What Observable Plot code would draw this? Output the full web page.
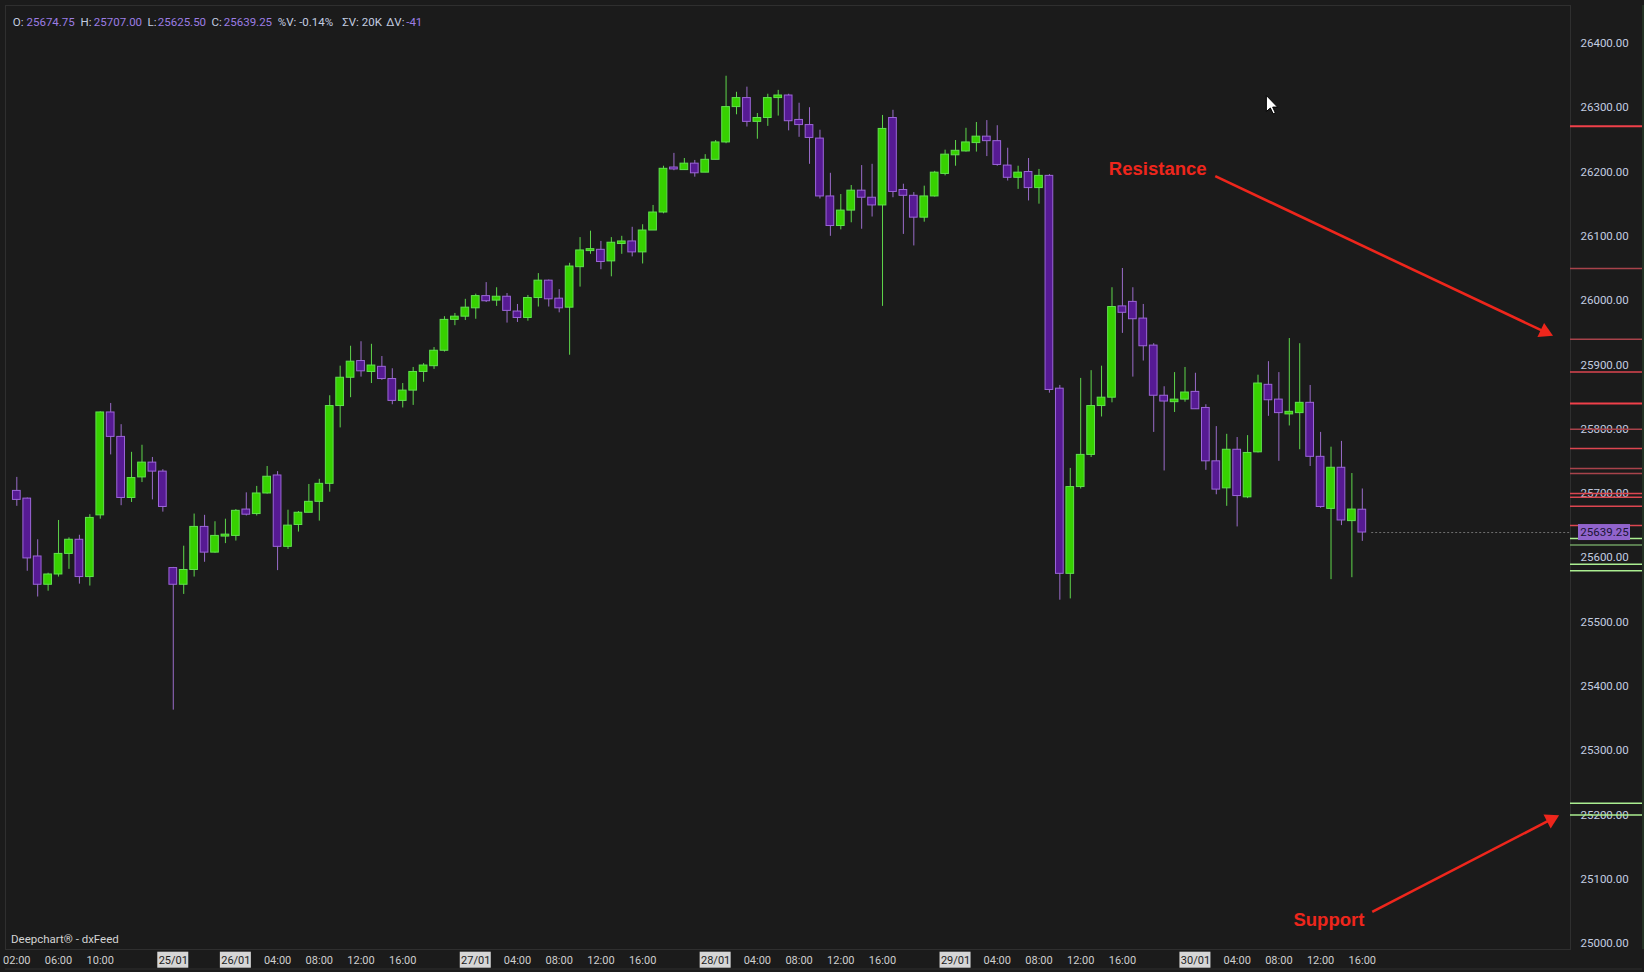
<!DOCTYPE html>
<html>
<head>
<meta charset="utf-8">
<script src="https://cdn.jsdelivr.net/npm/d3@7"></script>
<script src="https://cdn.jsdelivr.net/npm/@observablehq/plot@0.6"></script>
<style>
  html, body { margin: 0; padding: 0; background: #1b1b1b; overflow: hidden; }
  #chart svg { display: block; }
</style>
</head>
<body>
<div id="chart"></div>
<script>
// ---------- DATA (hourly candles, 23/01 02:00 -> 30/01 16:00) ----------
const open = [25704,25692,25602,25558,25574,25606,25628,25570,25666,25826,
  25788,25693,25725,25748,25734,25584,25558,25581,25648,25608,
  25633,25634,25675,25668,25700,25728,25617,25651,25670,25687,
  25715,25836,25880,25906,25889,25897,25878,25844,25860,25889,
  25898,25922,25970,25975,25988,26007,26000,26006,25983,25973,
  26004,26031,26003,25989,26052,26077,26079,26061,26088,26092,
  26075,26109,26137,26207,26203,26213,26199,26219,26246,26301,
  26315,26278,26284,26315,26319,26281,26273,26252,26162,26116,
  26140,26171,26160,26148,26284,26172,26163,26129,26162,26197,
  26226,26232,26245,26255,26248,26210,26191,26200,26175,26194,
  25863,25575,25710,25760,25836,25849,25991,25998,25972,25930,
  25852,25842,25846,25858,25833,25750,25708,25768,25694,25764,
  25869,25846,25823,25825,25841,25757,25676,25740,25657,25674.75];
const high = [25725,25693,25628,25576,25658,25631,25635,25667,25827,25840,
  25807,25764,25775,25756,25737,25585,25618,25668,25666,25656,
  25660,25675,25701,25711,25742,25734,25674,25672,25714,25722,
  25852,25898,25929,25936,25932,25913,25894,25871,25896,25902,
  25927,25975,25980,26002,26010,26028,26020,26011,25994,26008,
  26042,26032,26017,26058,26098,26108,26092,26098,26100,26114,
  26118,26148,26209,26229,26221,26218,26227,26249,26349,26324,
  26332,26291,26321,26327,26321,26307,26300,26265,26198,26165,
  26179,26210,26212,26288,26296,26181,26168,26178,26201,26234,
  26249,26268,26277,26280,26272,26237,26209,26221,26204,26196,
  25868,25739,25879,25891,25898,26020,26050,26020,25994,25933,
  25866,25888,25896,25887,25838,25804,25792,25787,25790,25884,
  25905,25888,25941,25933,25868,25795,25772,25781,25731,25707];
const low = [25680,25579,25539,25548,25570,25582,25559,25556,25660,25760,
  25681,25686,25717,25690,25671,25363,25543,25570,25593,25607,
  25622,25626,25665,25665,25699,25580,25613,25640,25670,25657,
  25702,25802,25849,25881,25871,25876,25838,25833,25837,25873,
  25893,25920,25961,25969,25971,25997,25991,25965,25966,25968,
  25990,25990,25981,25915,26021,26072,26048,26037,26072,26068,
  26057,26109,26135,26202,26203,26192,26199,26219,26244,26289,
  26270,26251,26271,26287,26264,26254,26212,26158,26100,26110,
  26121,26111,26130,25991,26160,26103,26085,26122,26161,26194,
  26209,26231,26231,26224,26209,26186,26173,26155,26150,25856,
  25534,25536,25707,25756,25819,25841,25949,25881,25906,25795,
  25735,25826,25842,25831,25736,25698,25680,25648,25692,25763,
  25820,25750,25805,25768,25742,25677,25566,25650,25569,25625.5];
const close = [25690,25599,25558,25574,25606,25628,25570,25662,25826,25788,
  25693,25724,25748,25734,25679,25558,25581,25648,25608,25634,
  25636,25673,25667,25700,25726,25617,25650,25670,25687,25715,
  25836,25880,25905,25890,25899,25878,25844,25860,25889,25899,
  25922,25970,25975,25989,26007,25999,26006,25984,25973,26004,
  26031,26002,25988,26053,26078,26080,26060,26090,26092,26075,
  26109,26137,26205,26204,26213,26198,26219,26246,26301,26315,
  26278,26284,26315,26319,26279,26273,26253,26162,26116,26140,
  26171,26160,26148,26267,26169,26163,26129,26162,26199,26227,
  26233,26246,26255,26248,26211,26191,26199,26175,26194,25861,
  25575,25710,25760,25836,25849,25990,25981,25971,25929,25852,
  25843,25846,25857,25831,25750,25706,25768,25696,25763,25871,
  25845,25825,25827,25841,25757,25679,25740,25658,25675,25639.25];

const timeTickIndex = [0,4,8,15,21,25,29,33,37,44,48,52,56,60,67,71,75,79,83,90,94,98,102,106,113,117,121,125,129];
const timeTickLabel = ["02:00","06:00","10:00","25/01","26/01","04:00","08:00","12:00","16:00",
  "27/01","04:00","08:00","12:00","16:00","28/01","04:00","08:00","12:00","16:00",
  "29/01","04:00","08:00","12:00","16:00","30/01","04:00","08:00","12:00","16:00"];

const priceTicks = [25000,25100,25200,25300,25400,25500,25600,25700,25800,25900,26000,26100,26200,26300,26400];

const resistanceMajor = [26271, 25840];
const resistanceNormal = [25889, 25770, 25700, 25694, 25680, 25650];
const resistanceMinor = [26050, 25940, 25800, 25739, 25731];
const supportMajor = [25630, 25590, 25580, 25218, 25200];
const supportMinor = [25620];

const headerLabels = ["O:", "H:", "L:", "C:"];
const headerStats = ["%V: -0.14%", "\u03A3V: 20K"];
const deltaVolume = "-41";

// ---------- LAYOUT ----------
const W = 1644, H = 972;
const mL = 5, mR = 74, mT = 5, mB = 23;
const xMin = -1.086, xMax = 148.96;
const yMin = 24990.7, yMax = 26459;
const idxPerPx = (xMax - xMin) / (W - mL - mR);
const pricePerPx = (yMax - yMin) / (H - mT - mB);
const belowPrice = px => yMin - px * pricePerPx;   // y position px below plot frame
const rightIdx = px => xMax + px * idxPerPx;        // x position px right of plot frame

const bars = open.map((o, i) => ({ i, o, h: high[i], l: low[i], c: close[i], up: close[i] >= o }));
const last = bars[bars.length - 1];
const ticks = timeTickIndex.map((x, k) => ({ x, label: timeTickLabel[k], isDate: timeTickLabel[k].includes("/") }));

const GREEN_FILL = "#37d100", GREEN_STROKE = "#62e04f", GREEN_WICK = "#5fd64b";
const PURPLE_FILL = "#561a93", PURPLE_STROKE = "#9c66d8", PURPLE_WICK = "#9a6cca";
const RED = "#ee261c";
const AXIS_TEXT = "#c3cde0";
const VALUE_PURPLE = "#9c7de3";

// annotations (in bar-index / price units)
const resistanceText = { x: 104.7, y: 26195 };
const resistanceArrow = { x1: 114.9, y1: 26193.5, x2: 146.5, y2: 25951.3 };
const supportText = { x: 122.4, y: 25027 };
const supportArrow = { x1: 129.95, y1: 25049.3, x2: 147.1, y2: 25193 };
const cursorPos = { x: 119.8, y: 26319 };

const cursorSymbol = {
  draw(ctx) {
    ctx.moveTo(0, 0); ctx.lineTo(0, 16); ctx.lineTo(4, 12.5); ctx.lineTo(6.8, 18.3);
    ctx.lineTo(9, 17.3); ctx.lineTo(6.3, 11.6); ctx.lineTo(11.2, 11.6); ctx.closePath();
  }
};

const headerValues = [last.o, last.h, last.l, last.c].map(v => v.toFixed(2));
const headerLabelDx = [7.3, 75, 142, 206];
const headerValueDx = [21, 88.3, 152.3, 218.3];
const headerStatDx = [272.3, 336.7];
const headerY = 12;

const chart = Plot.plot({
  width: W, height: H,
  marginLeft: mL, marginRight: mR, marginTop: mT, marginBottom: mB,
  x: { type: "linear", domain: [xMin, xMax], axis: null },
  y: { type: "linear", domain: [yMin, yMax], axis: null },
  color: { type: "identity" },
  style: { background: "#1b1b1b", fontFamily: "Roboto, 'Noto Sans', sans-serif", overflow: "visible" },
  marks: [
    Plot.frame({ stroke: "#2f2f2f" }),
    Plot.ruleX([rightIdx(72.5)], { stroke: "#2e4a2e" }),
    Plot.ruleY([belowPrice(19.5)], { x1: xMin, x2: rightIdx(72), stroke: "#2f2f2f" }),

    // right price axis labels
    Plot.text(priceTicks, { x: xMax, y: d => d, text: d => d.toFixed(2), dx: 10, textAnchor: "start",
      fill: AXIS_TEXT, fontSize: 11.5 }),

    // level lines in the price panel
    Plot.ruleY(resistanceMinor, { y: d => d, x1: xMax, x2: rightIdx(72), stroke: "#a8434b", strokeWidth: 1.5 }),
    Plot.ruleY(resistanceNormal, { y: d => d, x1: xMax, x2: rightIdx(72), stroke: "#dc4650", strokeWidth: 1.5 }),
    Plot.ruleY(resistanceMajor, { y: d => d, x1: xMax, x2: rightIdx(72), stroke: "#f0404a", strokeWidth: 2 }),
    Plot.ruleY(supportMinor, { y: d => d, x1: xMax, x2: rightIdx(72), stroke: "#6f9e62", strokeWidth: 1.5 }),
    Plot.ruleY(supportMajor, { y: d => d, x1: xMax, x2: rightIdx(72), stroke: "#abee91", strokeWidth: 1.5 }),

    // last-price dashed line
    Plot.ruleY([last.c], { x1: last.i + 0.9, x2: xMax, stroke: "#707070", strokeDasharray: "2,2" }),

    // candles
    Plot.ruleX(bars, { x: "i", y1: "l", y2: "h", stroke: d => d.up ? GREEN_WICK : PURPLE_WICK, strokeWidth: 1 }),
    Plot.rect(bars, { x1: d => d.i - 0.37, x2: d => d.i + 0.37, y1: "o", y2: "c",
      fill: d => d.up ? GREEN_FILL : PURPLE_FILL, stroke: d => d.up ? GREEN_STROKE : PURPLE_STROKE, strokeWidth: 1 }),

    // last price label box
    Plot.rect([last], { x1: rightIdx(8), x2: rightIdx(60), y1: d => d.c - 8 * pricePerPx, y2: d => d.c + 8 * pricePerPx,
      fill: "#9164cc" }),
    Plot.text([last], { x: rightIdx(34), y: "c", text: d => d.c.toFixed(2), fill: "#1c1535", fontSize: 11.5 }),

    // time axis
    Plot.rect(ticks.filter(d => d.isDate), { x1: d => d.x - 15.5 * idxPerPx, x2: d => d.x + 15.5 * idxPerPx,
      y1: belowPrice(2.7), y2: belowPrice(18.7), fill: "#d6d6d6" }),
    Plot.text(ticks, { x: "x", y: belowPrice(11), text: "label", fill: d => d.isDate ? "#1b1b1b" : "#cfcfcf",
      fontSize: 11 }),

    // watermark
    Plot.text(["Deepchart\u00AE - dxFeed"], { frameAnchor: "bottom-left", dx: 5.5, dy: -6.5, text: d => d,
      textAnchor: "start", fill: "#d4d4d4", fontSize: 11.5 }),

    // OHLC header
    ...headerLabels.map((lab, k) => Plot.text([lab], { frameAnchor: "top-left", dx: headerLabelDx[k], dy: headerY,
      text: d => d, textAnchor: "start", fill: AXIS_TEXT, fontSize: 11.5 })),
    ...headerValues.map((val, k) => Plot.text([val], { frameAnchor: "top-left", dx: headerValueDx[k], dy: headerY,
      text: d => d, textAnchor: "start", fill: VALUE_PURPLE, fontSize: 11.5 })),
    ...headerStats.map((s, k) => Plot.text([s], { frameAnchor: "top-left", dx: headerStatDx[k], dy: headerY,
      text: d => d, textAnchor: "start", fill: AXIS_TEXT, fontSize: 11.5 })),
    Plot.text(["\u0394V:"], { frameAnchor: "top-left", dx: 380.7, dy: headerY, text: d => d, textAnchor: "start",
      fill: AXIS_TEXT, fontSize: 11.5 }),
    Plot.text([deltaVolume], { frameAnchor: "top-left", dx: 400.7, dy: headerY, text: d => d, textAnchor: "start",
      fill: VALUE_PURPLE, fontSize: 11.5 }),

    // annotations
    Plot.link([resistanceArrow], { x1: "x1", y1: "y1", x2: "x2", y2: "y2", stroke: RED, strokeWidth: 2.6 }),
    Plot.dot([resistanceArrow], { x: "x2", y: "y2", symbol: "triangle", r: 5.8, rotate: 115.3, fill: RED }),
    Plot.text(["Resistance"], { x: resistanceText.x, y: resistanceText.y, text: d => d, textAnchor: "start",
      lineAnchor: "bottom", fill: RED, fontSize: 18.5, fontWeight: "bold", fontFamily: "'Liberation Sans', Arial, sans-serif" }),
    Plot.link([supportArrow], { x1: "x1", y1: "y1", x2: "x2", y2: "y2", stroke: RED, strokeWidth: 2.6 }),
    Plot.dot([supportArrow], { x: "x2", y: "y2", symbol: "triangle", r: 5.8, rotate: 62.7, fill: RED }),
    Plot.text(["Support"], { x: supportText.x, y: supportText.y, text: d => d, textAnchor: "start",
      lineAnchor: "bottom", fill: RED, fontSize: 18.5, fontWeight: "bold", fontFamily: "'Liberation Sans', Arial, sans-serif" }),

    // mouse pointer
    Plot.dot([cursorPos], { x: "x", y: "y", symbol: cursorSymbol, r: 5, fill: "#ffffff", stroke: "#000000", strokeWidth: 1 })
  ]
});
document.getElementById("chart").appendChild(chart);
</script>
</body>
</html>
